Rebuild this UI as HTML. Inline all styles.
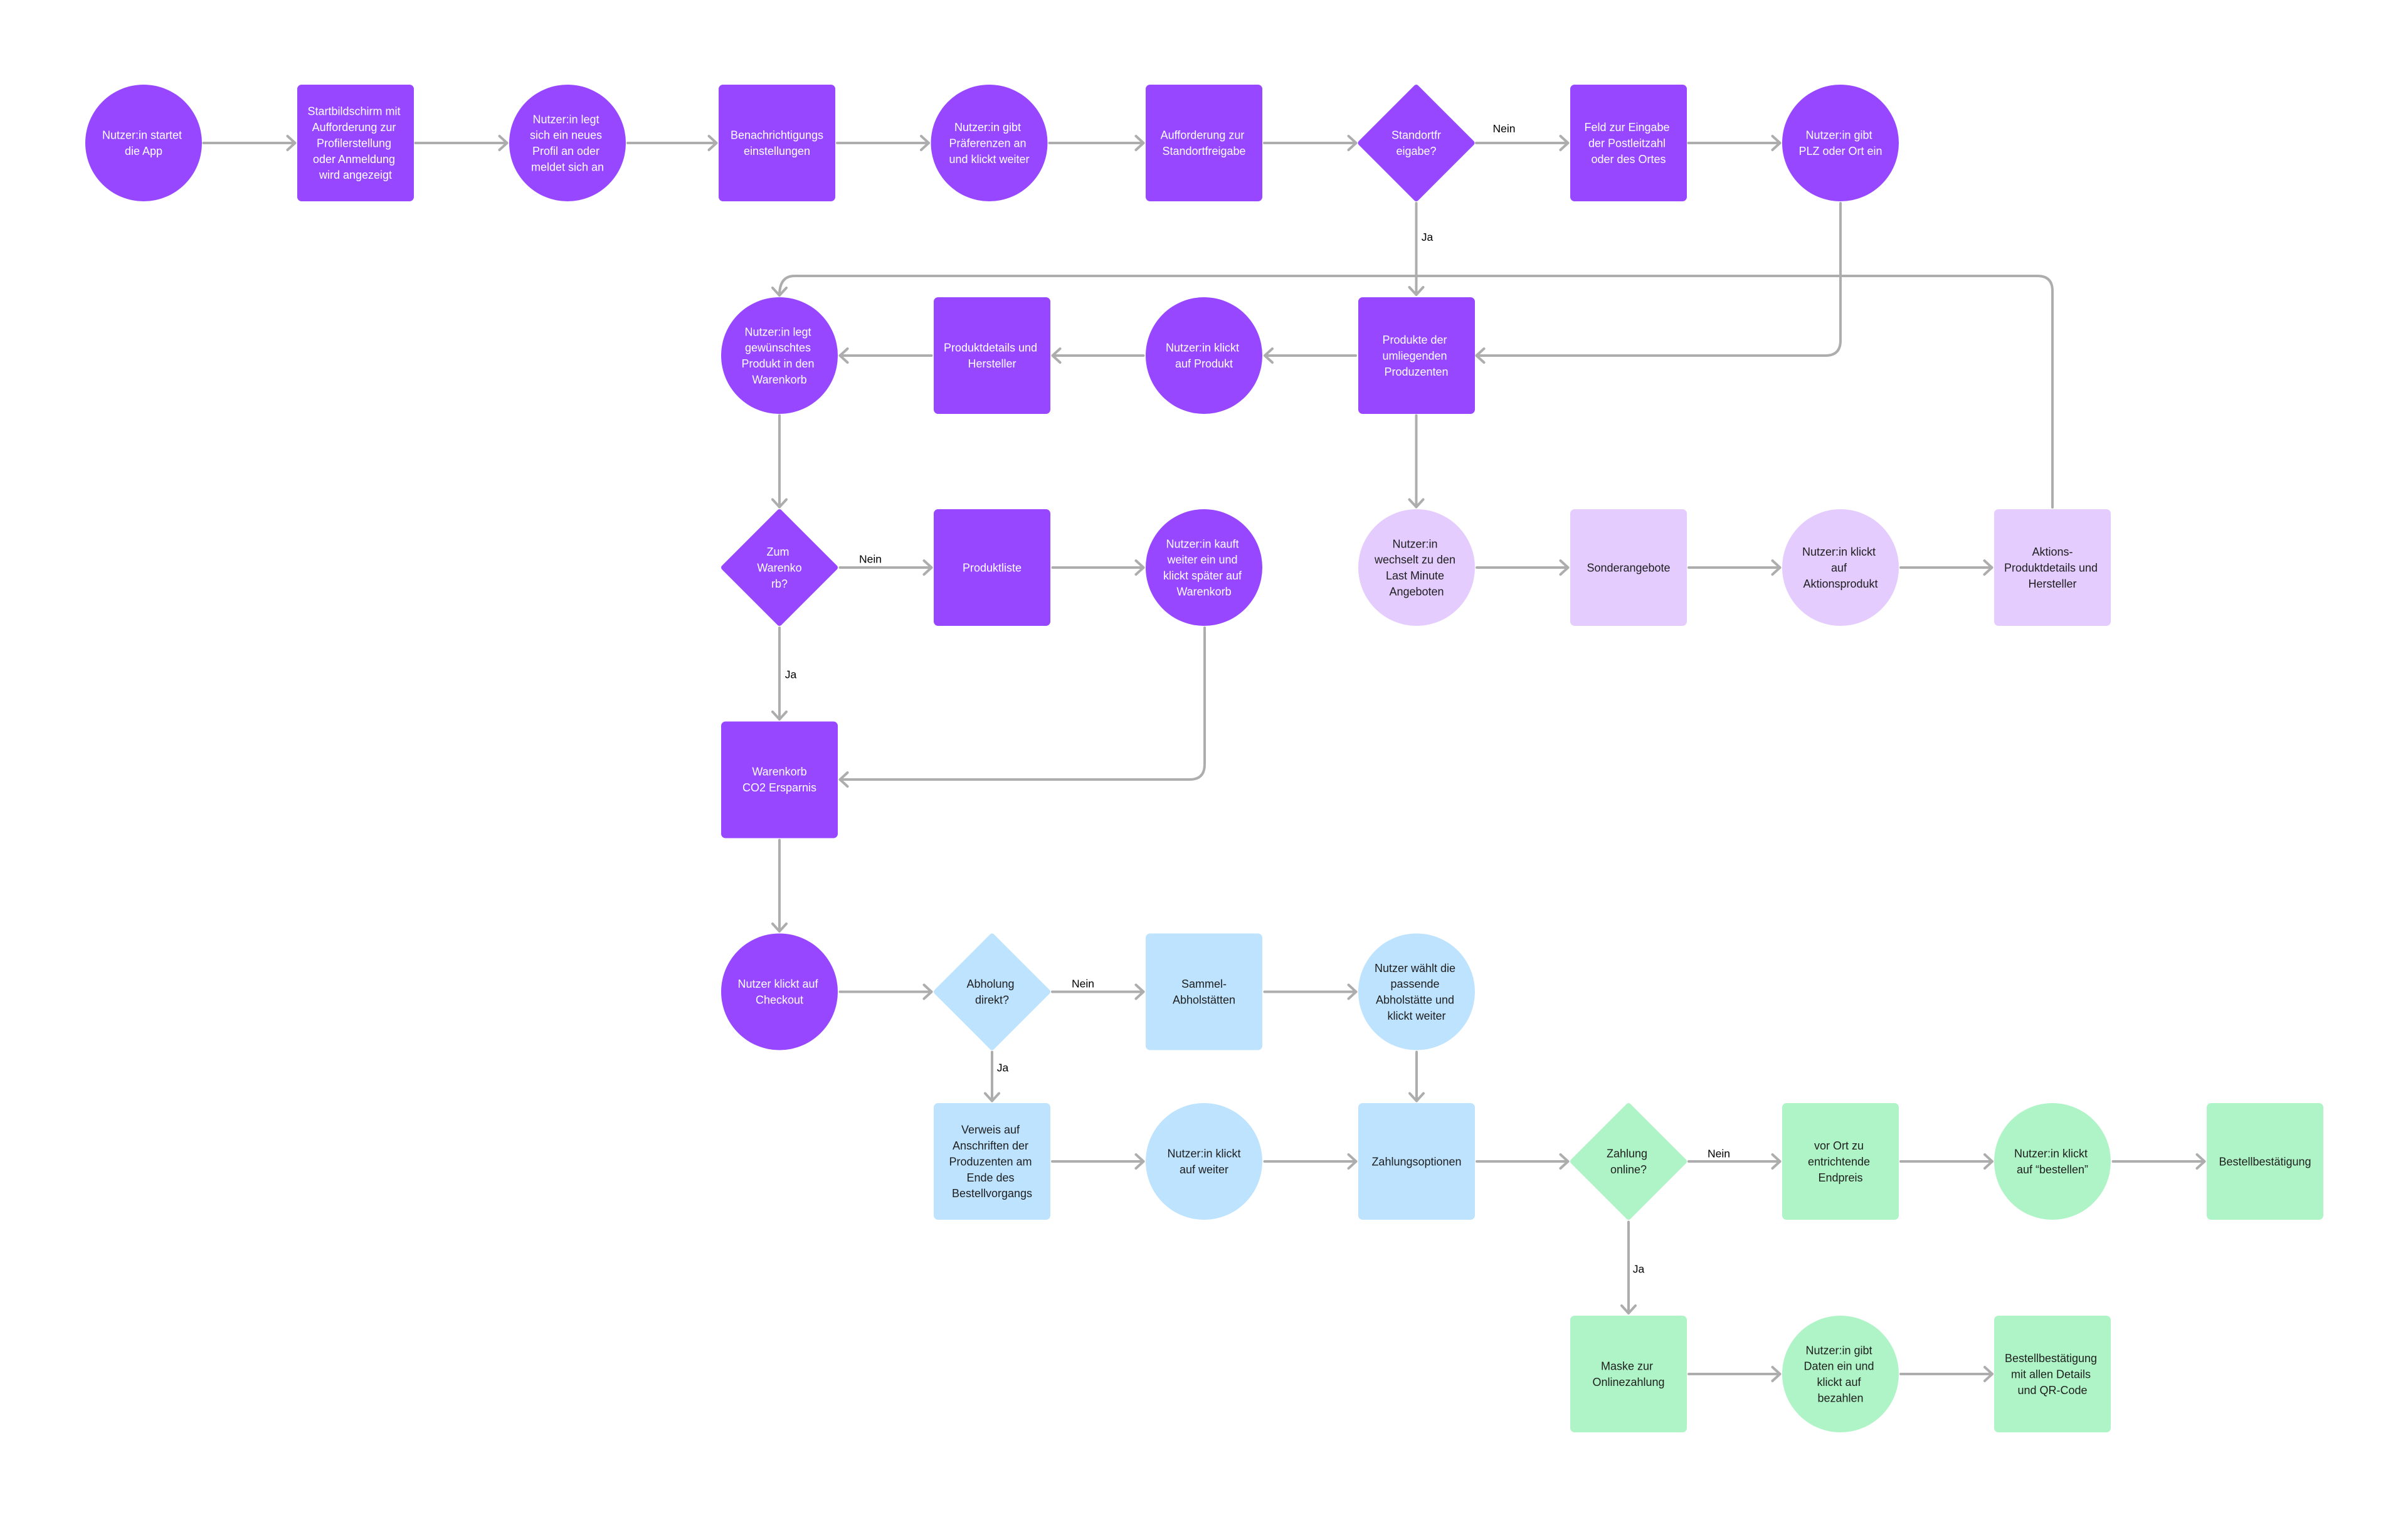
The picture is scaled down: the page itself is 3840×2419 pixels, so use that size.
<!DOCTYPE html>
<html lang="de">
<head>
<meta charset="utf-8">
<title>User Flow</title>
<style>
html,body{margin:0;padding:0;background:#fff}
svg{display:block}
text{font-family:"Liberation Sans",sans-serif;font-size:18px;text-anchor:middle}
.w text{fill:#fff}
.d text{fill:#1e1e1e}
.l text{fill:#000;font-size:17.5px}
.c line,.c path{fill:none;stroke:#adadad;stroke-width:4;stroke-linecap:round;stroke-linejoin:round;marker-end:url(#a)}
</style>
</head>
<body>
<svg xmlns="http://www.w3.org/2000/svg" width="3840" height="2419" viewBox="0 0 3840 2419">
<defs>
<marker id="a" markerUnits="userSpaceOnUse" viewBox="-15 -14 18 28" refX="0" refY="0" markerWidth="18" markerHeight="28" orient="auto">
<path d="M-12 -11L0 0L-12 11" style="fill:none;stroke:#adadad;stroke-width:4;stroke-linecap:round;stroke-linejoin:round;marker-end:none"/>
</marker>
</defs>
<rect width="3840" height="2419" fill="#fff"/>

<!-- connectors -->
<g class="c">
<line x1="324.5" y1="228" x2="470.5" y2="228"/>
<line x1="662.5" y1="228" x2="808.5" y2="228"/>
<line x1="1001" y1="228" x2="1142.5" y2="228"/>
<line x1="1335" y1="228" x2="1481" y2="228"/>
<line x1="1673.5" y1="228" x2="1823.5" y2="228"/>
<line x1="2016" y1="228" x2="2162.5" y2="228"/>
<line x1="2354" y1="228" x2="2500.5" y2="228"/>
<line x1="2692.5" y1="228" x2="2838.5" y2="228"/>
<line x1="2258.5" y1="324" x2="2258.5" y2="470"/>
<path d="M2935 324V543Q2935 567 2911 567H2354.5"/>
<path d="M3273 809V464Q3273 440 3249 440H1267Q1243 440 1243 471"/>
<line x1="2162" y1="567" x2="2017" y2="567"/>
<line x1="1823.5" y1="567" x2="1678.5" y2="567"/>
<line x1="1485.5" y1="567" x2="1339.5" y2="567"/>
<line x1="1243" y1="662.5" x2="1243" y2="808.5"/>
<line x1="1339.5" y1="905" x2="1485.5" y2="905"/>
<line x1="1678.5" y1="905" x2="1823.5" y2="905"/>
<line x1="2258.5" y1="662.5" x2="2258.5" y2="808.5"/>
<line x1="2355" y1="905" x2="2500.5" y2="905"/>
<line x1="2693" y1="905" x2="2838.5" y2="905"/>
<line x1="3031" y1="905" x2="3176.5" y2="905"/>
<line x1="1243" y1="1001" x2="1243" y2="1147"/>
<path d="M1921 1001V1219Q1921 1243 1897 1243H1339.5"/>
<line x1="1243" y1="1339.5" x2="1243" y2="1485"/>
<line x1="1339.5" y1="1581.5" x2="1485.5" y2="1581.5"/>
<line x1="1678" y1="1581.5" x2="1823.5" y2="1581.5"/>
<line x1="2016.5" y1="1581.5" x2="2162.5" y2="1581.5"/>
<line x1="1582" y1="1677.5" x2="1582" y2="1755.5"/>
<line x1="2259" y1="1677.5" x2="2259" y2="1755.5"/>
<line x1="1678" y1="1852" x2="1823.5" y2="1852"/>
<line x1="2016.5" y1="1852" x2="2162.5" y2="1852"/>
<line x1="2355" y1="1852" x2="2500.5" y2="1852"/>
<line x1="2693" y1="1852" x2="2838.5" y2="1852"/>
<line x1="3031" y1="1852" x2="3177" y2="1852"/>
<line x1="3369.5" y1="1852" x2="3515.5" y2="1852"/>
<line x1="2597" y1="1948.5" x2="2597" y2="2094"/>
<line x1="2693" y1="2191" x2="2838.5" y2="2191"/>
<line x1="3031" y1="2191" x2="3177" y2="2191"/>
</g>

<!-- purple shapes -->
<g fill="#9747ff">
<circle cx="229" cy="228" r="93"/>
<rect x="474" y="135" width="186" height="186" rx="7"/>
<circle cx="905" cy="228" r="93"/>
<rect x="1146" y="135" width="186" height="186" rx="7"/>
<circle cx="1577.5" cy="228" r="93"/>
<rect x="1827" y="135" width="186" height="186" rx="7"/>
<polygon points="2258.5,139 2347.5,228 2258.5,317 2169.5,228" stroke="#9747ff" stroke-width="8" stroke-linejoin="round"/>
<rect x="2504" y="135" width="186" height="186" rx="7"/>
<circle cx="2935" cy="228" r="93"/>
<circle cx="1243" cy="567" r="93"/>
<rect x="1489" y="474" width="186" height="186" rx="7"/>
<circle cx="1920" cy="567" r="93"/>
<rect x="2166" y="474" width="186" height="186" rx="7"/>
<polygon points="1243,816 1332,905 1243,994 1154,905" stroke="#9747ff" stroke-width="8" stroke-linejoin="round"/>
<rect x="1489" y="812" width="186" height="186" rx="7"/>
<circle cx="1920" cy="905" r="93"/>
<rect x="1150" y="1150.5" width="186" height="186" rx="7"/>
<circle cx="1243" cy="1581.5" r="93"/>
</g>

<!-- light purple shapes -->
<g fill="#e4ccff">
<circle cx="2259" cy="905" r="93"/>
<rect x="2504" y="812" width="186" height="186" rx="7"/>
<circle cx="2935" cy="905" r="93"/>
<rect x="3180" y="812" width="186" height="186" rx="7"/>
</g>

<!-- blue shapes -->
<g fill="#bde3ff">
<polygon points="1582,1492.5 1671,1581.5 1582,1670.5 1493,1581.5" stroke="#bde3ff" stroke-width="8" stroke-linejoin="round"/>
<rect x="1827" y="1488.5" width="186" height="186" rx="7"/>
<circle cx="2259" cy="1581.5" r="93"/>
<rect x="1489" y="1759" width="186" height="186" rx="7"/>
<circle cx="1920" cy="1852" r="93"/>
<rect x="2166" y="1759" width="186" height="186" rx="7"/>
</g>

<!-- green shapes -->
<g fill="#aff4c6">
<polygon points="2597,1763 2686,1852 2597,1941 2508,1852" stroke="#aff4c6" stroke-width="8" stroke-linejoin="round"/>
<rect x="2842" y="1759" width="186" height="186" rx="7"/>
<circle cx="3273" cy="1852" r="93"/>
<rect x="3519" y="1759" width="186" height="186" rx="7"/>
<rect x="2504" y="2098" width="186" height="186" rx="7"/>
<circle cx="2935" cy="2191" r="93"/>
<rect x="3180" y="2098" width="186" height="186" rx="7"/>
</g>

<!-- white labels -->
<g class="w">
<text y="221.7"><tspan x="226.5">Nutzer:in startet</tspan><tspan x="229" dy="25.4">die App</tspan></text>
<text y="183.6"><tspan x="564.5">Startbildschirm mit</tspan><tspan x="564.5" dy="25.4">Aufforderung zur</tspan><tspan x="564.5" dy="25.4">Profilerstellung</tspan><tspan x="564.5" dy="25.4">oder Anmeldung</tspan><tspan x="567" dy="25.4">wird angezeigt</tspan></text>
<text y="196.3"><tspan x="902.5">Nutzer:in legt</tspan><tspan x="902.5" dy="25.4">sich ein neues</tspan><tspan x="902.5" dy="25.4">Profil an oder</tspan><tspan x="905" dy="25.4">meldet sich an</tspan></text>
<text y="221.7"><tspan x="1239">Benachrichtigungs</tspan><tspan x="1239" dy="25.4">einstellungen</tspan></text>
<text y="209"><tspan x="1575">Nutzer:in gibt</tspan><tspan x="1575" dy="25.4">Präferenzen an</tspan><tspan x="1577.5" dy="25.4">und klickt weiter</tspan></text>
<text y="221.7"><tspan x="1917.5">Aufforderung zur</tspan><tspan x="1920" dy="25.4">Standortfreigabe</tspan></text>
<text y="221.7"><tspan x="2258.5">Standortfr</tspan><tspan x="2258.5" dy="25.4">eigabe?</tspan></text>
<text y="209"><tspan x="2594.5">Feld zur Eingabe</tspan><tspan x="2594.5" dy="25.4">der Postleitzahl</tspan><tspan x="2597" dy="25.4">oder des Ortes</tspan></text>
<text y="221.7"><tspan x="2932.5">Nutzer:in gibt</tspan><tspan x="2935" dy="25.4">PLZ oder Ort ein</tspan></text>

<text y="535.3"><tspan x="1240.5">Nutzer:in legt</tspan><tspan x="1240.5" dy="25.4">gewünschtes</tspan><tspan x="1240.5" dy="25.4">Produkt in den</tspan><tspan x="1243" dy="25.4">Warenkorb</tspan></text>
<text y="560.7"><tspan x="1579.5">Produktdetails und</tspan><tspan x="1582" dy="25.4">Hersteller</tspan></text>
<text y="560.7"><tspan x="1917.5">Nutzer:in klickt</tspan><tspan x="1920" dy="25.4">auf Produkt</tspan></text>
<text y="548"><tspan x="2256">Produkte der</tspan><tspan x="2256" dy="25.4">umliegenden</tspan><tspan x="2258.5" dy="25.4">Produzenten</tspan></text>

<text y="886"><tspan x="1240.5">Zum</tspan><tspan x="1243" dy="25.4">Warenko</tspan><tspan x="1243" dy="25.4">rb?</tspan></text>
<text x="1582" y="911.4">Produktliste</text>
<text y="873.3"><tspan x="1917.5">Nutzer:in kauft</tspan><tspan x="1917.5" dy="25.4">weiter ein und</tspan><tspan x="1917.5" dy="25.4">klickt später auf</tspan><tspan x="1920" dy="25.4">Warenkorb</tspan></text>

<text y="1236.7"><tspan x="1243">Warenkorb</tspan><tspan x="1243" dy="25.4">CO2 Ersparnis</tspan></text>
<text y="1575.2"><tspan x="1240.5">Nutzer klickt auf</tspan><tspan x="1243" dy="25.4">Checkout</tspan></text>
</g>

<!-- dark labels -->
<g class="d">
<text y="873.3"><tspan x="2256.5">Nutzer:in</tspan><tspan x="2256.5" dy="25.4">wechselt zu den</tspan><tspan x="2256.5" dy="25.4">Last Minute</tspan><tspan x="2259" dy="25.4">Angeboten</tspan></text>
<text x="2597" y="911.4">Sonderangebote</text>
<text y="886"><tspan x="2932.5">Nutzer:in klickt</tspan><tspan x="2932.5" dy="25.4">auf</tspan><tspan x="2935" dy="25.4">Aktionsprodukt</tspan></text>
<text y="886"><tspan x="3273">Aktions-</tspan><tspan x="3270.5" dy="25.4">Produktdetails und</tspan><tspan x="3273" dy="25.4">Hersteller</tspan></text>

<text y="1575.2"><tspan x="1579.5">Abholung</tspan><tspan x="1582" dy="25.4">direkt?</tspan></text>
<text y="1575.2"><tspan x="1920">Sammel-</tspan><tspan x="1920" dy="25.4">Abholstätten</tspan></text>
<text y="1549.8"><tspan x="2256.5">Nutzer wählt die</tspan><tspan x="2256.5" dy="25.4">passende</tspan><tspan x="2256.5" dy="25.4">Abholstätte und</tspan><tspan x="2259" dy="25.4">klickt weiter</tspan></text>

<text y="1807.6"><tspan x="1579.5">Verweis auf</tspan><tspan x="1579.5" dy="25.4">Anschriften der</tspan><tspan x="1579.5" dy="25.4">Produzenten am</tspan><tspan x="1579.5" dy="25.4">Ende des</tspan><tspan x="1582" dy="25.4">Bestellvorgangs</tspan></text>
<text y="1845.7"><tspan x="1920">Nutzer:in klickt</tspan><tspan x="1920" dy="25.4">auf weiter</tspan></text>
<text x="2259" y="1858.4">Zahlungsoptionen</text>
<text y="1845.7"><tspan x="2594.5">Zahlung</tspan><tspan x="2597" dy="25.4">online?</tspan></text>
<text y="1833"><tspan x="2932.5">vor Ort zu</tspan><tspan x="2932.5" dy="25.4">entrichtende</tspan><tspan x="2935" dy="25.4">Endpreis</tspan></text>
<text y="1845.7"><tspan x="3270.5">Nutzer:in klickt</tspan><tspan x="3273" dy="25.4">auf “bestellen”</tspan></text>
<text x="3612" y="1858.4">Bestellbestätigung</text>

<text y="2184.7"><tspan x="2594.5">Maske zur</tspan><tspan x="2597" dy="25.4">Onlinezahlung</tspan></text>
<text y="2159.3"><tspan x="2932.5">Nutzer:in gibt</tspan><tspan x="2932.5" dy="25.4">Daten ein und</tspan><tspan x="2932.5" dy="25.4">klickt auf</tspan><tspan x="2935" dy="25.4">bezahlen</tspan></text>
<text y="2172"><tspan x="3270.5">Bestellbestätigung</tspan><tspan x="3270.5" dy="25.4">mit allen Details</tspan><tspan x="3273" dy="25.4">und QR-Code</tspan></text>
</g>

<!-- connector labels -->
<g class="l">
<text x="2398.5" y="211">Nein</text>
<text x="2276" y="384">Ja</text>
<text x="1388" y="897.5">Nein</text>
<text x="1261" y="1081.5">Ja</text>
<text x="1727" y="1574.5">Nein</text>
<text x="1599" y="1708.5">Ja</text>
<text x="2741" y="1845.5">Nein</text>
<text x="2613" y="2029.5">Ja</text>
</g>
</svg>
</body>
</html>
